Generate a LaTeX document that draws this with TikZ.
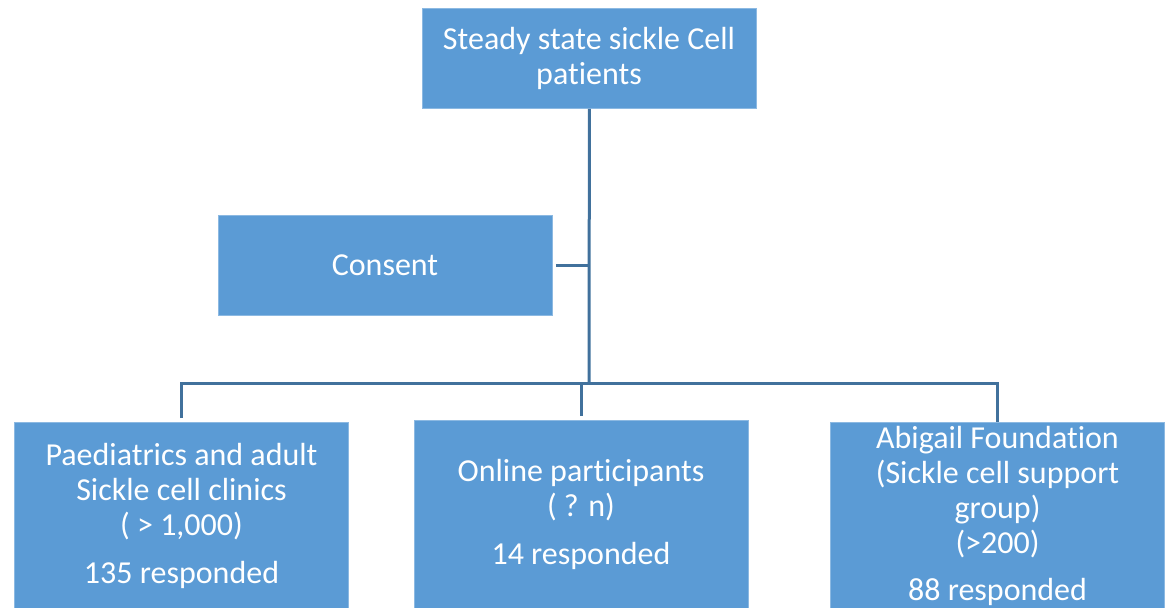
\documentclass[tikz,border=0pt]{standalone}
\usepackage{fontspec}
\setmainfont{Carlito}[Ligatures=NoCommon]
\definecolor{boxfill}{HTML}{5B9BD5}
\definecolor{linec}{HTML}{41719C}
\begin{document}
\begin{tikzpicture}[x=0.5pt,y=-0.5pt,
  box/.style={fill=boxfill, draw=boxfill!70!white, line width=0.4pt, inner sep=0pt, anchor=north west,
    minimum width=167pt, minimum height=#1},
  box/.default=50pt,
  txt/.style={text=white, align=center, font=\fontsize{16}{17.5}\selectfont, inner sep=0pt},
  conn/.style={draw=linec, line width=1.5pt}]
\useasboundingbox (0,0) rectangle (1165,607);
% boxes
\node[box] (top) at (422,8) {};
\node[box] (consent) at (218,215) {};
\node[box=100pt] (left) at (14,422) {};
\node[box=100pt] (mid) at (414,420) {};
\node[box=100pt] (right) at (830,422) {};
% texts
\node[txt] (ttop) at (589,58) {Steady state sickle Cell\\patients};
\node[txt] (tcons) at (385,265) {Consent};
\node[txt] (tleft) at (181.5,516) {Paediatrics and adult\\Sickle cell clinics\\( {>} 1,000)\\[6.5pt]135 responded};
\node[txt] (tmid) at (581,514) {Online participants\\( ? n)\\[6.5pt]14 responded};
\node[txt] (tright) at (997.5,516) {Abigail Foundation\\(Sickle cell support\\group)\\({>}200)\\[6pt]88 responded};
% connectors
\coordinate (j) at (589,383);
\draw[conn] (top.south) -- (j);
\draw[conn, shorten <=1.5pt] (consent.east) -- (consent.east -| j);
\draw[conn, shorten <=2pt] (left.north) -- (left.north |- j) -- (right.north |- j) -- (right.north);
\draw[conn, shorten <=2pt] (mid.north) -- (mid.north |- j);
\end{tikzpicture}
\end{document}
